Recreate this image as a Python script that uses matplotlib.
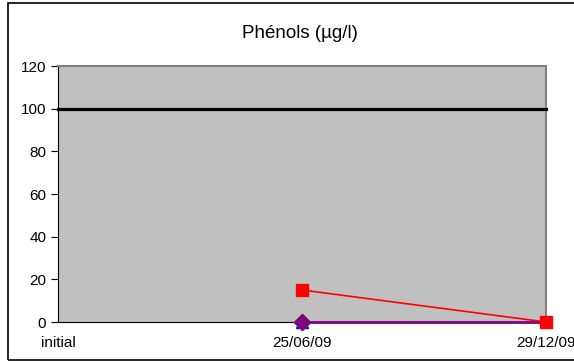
import numpy as np
import matplotlib.pyplot as plt
from matplotlib.patches import Rectangle

plt.rcParams['font.family'] = ['Liberation Sans', 'DejaVu Sans']

dates = ['initial', '25/06/09', '29/12/09']
limite = [100, 100, 100]
rouge = [np.nan, 15, 0]
vert = [np.nan, 0, np.nan]
bleu = [np.nan, 0, np.nan]
violet = [np.nan, 0, 0]
yticks = [0, 20, 40, 60, 80, 100, 120]

fig = plt.figure(figsize=(5.74, 3.61), dpi=100)
ax = fig.add_axes([58/574, 1-322/361, 488/574, 256/361])
ax.set_facecolor('#c0c0c0')

x = np.arange(len(dates))
ax.plot(x, limite, color='black', lw=2.3, clip_on=False, zorder=3)
ax.plot(x, bleu, color='blue', marker='^', ms=8.5, lw=1.5, clip_on=False, zorder=4)
ax.plot(x, vert, color='#00cc00', marker='D', ms=8.5, lw=1.5, clip_on=False, zorder=5)
ax.plot(x, violet, color='#800080', marker='D', ms=8, lw=2, markevery=[1],
        clip_on=False, zorder=6)
ax.plot(x, rouge, color='red', marker='s', ms=9, lw=1.2, clip_on=False, zorder=7)

ax.set_xlim(0, 2)
ax.set_ylim(0, 120)
ax.set_yticks(yticks)
ax.set_xticks(x)
ax.set_xticklabels(dates)
ax.tick_params(axis='both', direction='out', length=5, width=0.8, labelsize=11, colors='black')
ax.tick_params(axis='x', length=0, pad=10)
for s in ['top', 'right']:
    ax.spines[s].set_color('#808080')
    ax.spines[s].set_linewidth(1.5)
for s in ['left', 'bottom']:
    ax.spines[s].set_color('black')
    ax.spines[s].set_linewidth(0.8)

fig.text(300/574, 1-33/361, 'Phénols (µg/l)', ha='center', va='center', fontsize=13.5)
fig.patches.append(Rectangle((8/574, 1/361), 1, 357/361, transform=fig.transFigure,
                             fill=False, edgecolor='black', lw=1.2))

fig.savefig('out.png', dpi=100)
